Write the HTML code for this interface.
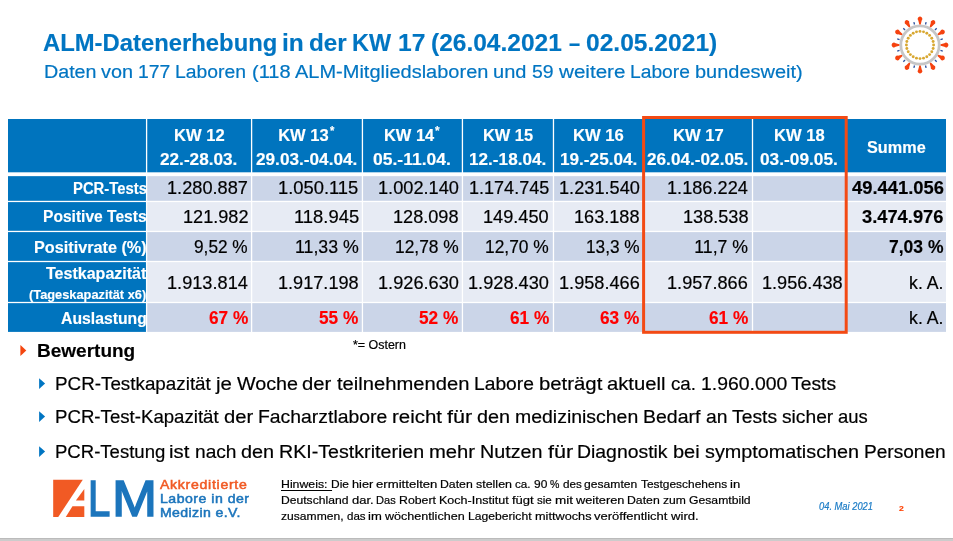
<!DOCTYPE html>
<html lang="de"><head><meta charset="utf-8"><title>ALM-Datenerhebung KW 17</title>
<style>
html,body{margin:0;padding:0;background:#fff}
body{width:953px;height:541px;position:relative;overflow:hidden;font-family:"Liberation Sans",sans-serif;color:#000}
.r{position:absolute;display:block}
.t{position:absolute;white-space:nowrap;line-height:1;transform-origin:0 0}
.ln{position:absolute;left:0;top:0;white-space:nowrap;line-height:1}
u{text-decoration:none;border-bottom:1.3px solid #000;display:inline-block;line-height:1;padding-right:.36em;padding-bottom:0;height:.91em}
</style></head>
<body>
<svg class="r" style="left:0;top:0" width="953" height="541" viewBox="0 0 953 541" aria-hidden="true">
<rect x="8" y="119" width="938" height="53.30" fill="#0074BE"/>
<rect x="8" y="176.15" width="138.60" height="24.65" fill="#0074BE"/>
<rect x="146.6" y="176.15" width="799.40" height="24.65" fill="#CBD5E8"/>
<rect x="8" y="202.1" width="138.60" height="28.70" fill="#0074BE"/>
<rect x="146.6" y="202.1" width="799.40" height="28.70" fill="#E7EBF4"/>
<rect x="8" y="232.1" width="138.60" height="28.75" fill="#0074BE"/>
<rect x="146.6" y="232.1" width="799.40" height="28.75" fill="#CBD5E8"/>
<rect x="8" y="262.15" width="138.60" height="39.70" fill="#0074BE"/>
<rect x="146.6" y="262.15" width="799.40" height="39.70" fill="#E7EBF4"/>
<rect x="8" y="303.15" width="138.60" height="28.75" fill="#0074BE"/>
<rect x="146.6" y="303.15" width="799.40" height="28.75" fill="#CBD5E8"/>
<rect x="145.95" y="118" width="1.3" height="215" fill="#fff"/>
<rect x="250.95" y="118" width="1.3" height="215" fill="#fff"/>
<rect x="361.78" y="118" width="1.3" height="215" fill="#fff"/>
<rect x="461.78" y="118" width="1.3" height="215" fill="#fff"/>
<rect x="552.82" y="118" width="1.3" height="215" fill="#fff"/>
<rect x="642.95" y="118" width="1.3" height="215" fill="#fff"/>
<rect x="751.85" y="118" width="1.3" height="215" fill="#fff"/>
<rect x="845.45" y="118" width="1.3" height="215" fill="#fff"/>
<polygon points="53.20,479.80 82.79,479.80 58.24,516.90 53.20,516.90" fill="#F15A24"/>
<polygon points="84.30,488.89 84.30,500.62 75.86,500.62" fill="#F15A24"/>
<polygon points="72.46,506.30 84.30,506.30 84.30,516.90 65.79,516.90" fill="#F15A24"/>
<polygon points="20.4,345 26.3,350.5 20.4,356" fill="#F4460F"/>
<polygon points="39.1,378.20 45.1,383.60 39.1,389.00" fill="#0075C2"/>
<polygon points="39.1,411.20 45.1,416.60 39.1,422.00" fill="#0075C2"/>
<polygon points="39.1,446.20 45.1,451.60 39.1,457.00" fill="#0075C2"/>
<rect x="643.6" y="117.5" width="202.6" height="214.8" fill="none" stroke="#F34A14" stroke-width="3"/>
<rect x="0" y="538" width="953" height="1" fill="#BBBBBB"/><rect x="0" y="539" width="953" height="2" fill="#CCCCCC"/>
<g transform="translate(920 45)">
<circle r="19.2" fill="none" stroke="#C6C6C6" stroke-width="2.8"/>
<circle cx="13.60" cy="0.00" r="1.45" fill="#D8A832"/>
<circle cx="13.14" cy="3.52" r="1.45" fill="#D8A832"/>
<circle cx="11.78" cy="6.80" r="1.45" fill="#D8A832"/>
<circle cx="9.62" cy="9.62" r="1.45" fill="#D8A832"/>
<circle cx="6.80" cy="11.78" r="1.45" fill="#D8A832"/>
<circle cx="3.52" cy="13.14" r="1.45" fill="#D8A832"/>
<circle cx="0.00" cy="13.60" r="1.45" fill="#D8A832"/>
<circle cx="-3.52" cy="13.14" r="1.45" fill="#D8A832"/>
<circle cx="-6.80" cy="11.78" r="1.45" fill="#D8A832"/>
<circle cx="-9.62" cy="9.62" r="1.45" fill="#D8A832"/>
<circle cx="-11.78" cy="6.80" r="1.45" fill="#D8A832"/>
<circle cx="-13.14" cy="3.52" r="1.45" fill="#D8A832"/>
<circle cx="-13.60" cy="0.00" r="1.45" fill="#D8A832"/>
<circle cx="-13.14" cy="-3.52" r="1.45" fill="#D8A832"/>
<circle cx="-11.78" cy="-6.80" r="1.45" fill="#D8A832"/>
<circle cx="-9.62" cy="-9.62" r="1.45" fill="#D8A832"/>
<circle cx="-6.80" cy="-11.78" r="1.45" fill="#D8A832"/>
<circle cx="-3.52" cy="-13.14" r="1.45" fill="#D8A832"/>
<circle cx="-0.00" cy="-13.60" r="1.45" fill="#D8A832"/>
<circle cx="3.52" cy="-13.14" r="1.45" fill="#D8A832"/>
<circle cx="6.80" cy="-11.78" r="1.45" fill="#D8A832"/>
<circle cx="9.62" cy="-9.62" r="1.45" fill="#D8A832"/>
<circle cx="11.78" cy="-6.80" r="1.45" fill="#D8A832"/>
<circle cx="13.14" cy="-3.52" r="1.45" fill="#D8A832"/>
<path transform="rotate(0)" d="M20.6 -0.7 L24.4 -1.7 A2.35 2.35 0 1 1 24.4 1.7 L20.6 0.7 Z" fill="#F5420F"/>
<rect transform="rotate(15)" x="21.2" y="-0.65" width="2.4" height="1.3" fill="#2A4F9E"/>
<path transform="rotate(30)" d="M20.6 -0.7 L24.4 -1.7 A2.35 2.35 0 1 1 24.4 1.7 L20.6 0.7 Z" fill="#F5420F"/>
<rect transform="rotate(45)" x="21.2" y="-0.65" width="2.4" height="1.3" fill="#2A4F9E"/>
<path transform="rotate(60)" d="M20.6 -0.7 L24.4 -1.7 A2.35 2.35 0 1 1 24.4 1.7 L20.6 0.7 Z" fill="#F5420F"/>
<rect transform="rotate(75)" x="21.2" y="-0.65" width="2.4" height="1.3" fill="#2A4F9E"/>
<path transform="rotate(90)" d="M20.6 -0.7 L24.4 -1.7 A2.35 2.35 0 1 1 24.4 1.7 L20.6 0.7 Z" fill="#F5420F"/>
<rect transform="rotate(105)" x="21.2" y="-0.65" width="2.4" height="1.3" fill="#2A4F9E"/>
<path transform="rotate(120)" d="M20.6 -0.7 L24.4 -1.7 A2.35 2.35 0 1 1 24.4 1.7 L20.6 0.7 Z" fill="#F5420F"/>
<rect transform="rotate(135)" x="21.2" y="-0.65" width="2.4" height="1.3" fill="#2A4F9E"/>
<path transform="rotate(150)" d="M20.6 -0.7 L24.4 -1.7 A2.35 2.35 0 1 1 24.4 1.7 L20.6 0.7 Z" fill="#F5420F"/>
<rect transform="rotate(165)" x="21.2" y="-0.65" width="2.4" height="1.3" fill="#2A4F9E"/>
<path transform="rotate(180)" d="M20.6 -0.7 L24.4 -1.7 A2.35 2.35 0 1 1 24.4 1.7 L20.6 0.7 Z" fill="#F5420F"/>
<rect transform="rotate(195)" x="21.2" y="-0.65" width="2.4" height="1.3" fill="#2A4F9E"/>
<path transform="rotate(210)" d="M20.6 -0.7 L24.4 -1.7 A2.35 2.35 0 1 1 24.4 1.7 L20.6 0.7 Z" fill="#F5420F"/>
<rect transform="rotate(225)" x="21.2" y="-0.65" width="2.4" height="1.3" fill="#2A4F9E"/>
<path transform="rotate(240)" d="M20.6 -0.7 L24.4 -1.7 A2.35 2.35 0 1 1 24.4 1.7 L20.6 0.7 Z" fill="#F5420F"/>
<rect transform="rotate(255)" x="21.2" y="-0.65" width="2.4" height="1.3" fill="#2A4F9E"/>
<path transform="rotate(270)" d="M20.6 -0.7 L24.4 -1.7 A2.35 2.35 0 1 1 24.4 1.7 L20.6 0.7 Z" fill="#F5420F"/>
<rect transform="rotate(285)" x="21.2" y="-0.65" width="2.4" height="1.3" fill="#2A4F9E"/>
<path transform="rotate(300)" d="M20.6 -0.7 L24.4 -1.7 A2.35 2.35 0 1 1 24.4 1.7 L20.6 0.7 Z" fill="#F5420F"/>
<rect transform="rotate(315)" x="21.2" y="-0.65" width="2.4" height="1.3" fill="#2A4F9E"/>
<path transform="rotate(330)" d="M20.6 -0.7 L24.4 -1.7 A2.35 2.35 0 1 1 24.4 1.7 L20.6 0.7 Z" fill="#F5420F"/>
<rect transform="rotate(345)" x="21.2" y="-0.65" width="2.4" height="1.3" fill="#2A4F9E"/>
</g>
</svg>
<div class="ln" style="font-size:24.2px;color:#0075C2;font-weight:700;">
<span class="t" style="left:43.31px;top:31.00px;transform:scaleX(0.9851);-webkit-text-stroke:0.15px #0075C2;">ALM-Datenerhebung</span> 
<span class="t" style="left:281.55px;top:31.00px;transform:scaleX(1.0128);-webkit-text-stroke:0.15px #0075C2;">in</span> 
<span class="t" style="left:308.78px;top:31.00px;transform:scaleX(1.0026);-webkit-text-stroke:0.15px #0075C2;">der</span> 
<span class="t" style="left:352.27px;top:31.00px;transform:scaleX(0.9685);-webkit-text-stroke:0.15px #0075C2;">KW</span> 
<span class="t" style="left:397.56px;top:31.00px;transform:scaleX(1.0182);-webkit-text-stroke:0.15px #0075C2;">17</span> 
<span class="t" style="left:430.56px;top:31.00px;transform:scaleX(1.0133);-webkit-text-stroke:0.15px #0075C2;">(26.04.2021</span> 
<span class="t" style="left:568.51px;top:31.00px;transform:scaleX(0.8276);-webkit-text-stroke:0.15px #0075C2;">–</span> 
<span class="t" style="left:586.26px;top:31.00px;transform:scaleX(1.0165);-webkit-text-stroke:0.15px #0075C2;">02.05.2021)</span> 
</div>
<div class="ln" style="font-size:19.2px;color:#0075C2;">
<span class="t" style="left:43.66px;top:62.00px;transform:scaleX(1.0252);-webkit-text-stroke:0.2px #0075C2;">Daten</span> 
<span class="t" style="left:101.12px;top:62.00px;transform:scaleX(1.0354);-webkit-text-stroke:0.2px #0075C2;">von</span> 
<span class="t" style="left:138.37px;top:62.00px;transform:scaleX(1.0105);-webkit-text-stroke:0.2px #0075C2;">177</span> 
<span class="t" style="left:175.19px;top:62.00px;transform:scaleX(1.0091);-webkit-text-stroke:0.2px #0075C2;">Laboren</span> 
<span class="t" style="left:251.50px;top:62.00px;transform:scaleX(1.0434);-webkit-text-stroke:0.2px #0075C2;">(118</span> 
<span class="t" style="left:294.93px;top:62.00px;transform:scaleX(1.0421);-webkit-text-stroke:0.2px #0075C2;">ALM-Mitgliedslaboren</span> 
<span class="t" style="left:493.29px;top:62.00px;transform:scaleX(1.0441);-webkit-text-stroke:0.2px #0075C2;">und</span> 
<span class="t" style="left:531.94px;top:62.00px;transform:scaleX(1.0134);-webkit-text-stroke:0.2px #0075C2;">59</span> 
<span class="t" style="left:558.54px;top:62.00px;transform:scaleX(1.0742);-webkit-text-stroke:0.2px #0075C2;">weitere</span> 
<span class="t" style="left:629.63px;top:62.00px;transform:scaleX(1.0028);-webkit-text-stroke:0.2px #0075C2;">Labore</span> 
<span class="t" style="left:694.60px;top:62.00px;transform:scaleX(1.0407);-webkit-text-stroke:0.2px #0075C2;">bundesweit)</span> 
</div>
<span class="t" style="left:173.66px;top:128.00px;transform:scaleX(1.0023);-webkit-text-stroke:0.15px #fff;font-size:16.52px;color:#fff;font-weight:700;">KW 12</span>
<span class="t" style="left:160.46px;top:152.00px;transform:scaleX(1.0406);-webkit-text-stroke:0.15px #fff;font-size:16.52px;color:#fff;font-weight:700;">22.-28.03.</span>
<span class="t" style="left:278.15px;top:128.00px;-webkit-text-stroke:0.15px #fff;font-size:16.52px;color:#fff;font-weight:700;">KW 13</span>
<span class="t" style="left:256.42px;top:152.00px;transform:scaleX(1.0408);-webkit-text-stroke:0.15px #fff;font-size:16.52px;color:#fff;font-weight:700;">29.03.-04.04.</span>
<span class="t" style="left:383.66px;top:128.00px;transform:scaleX(0.9940);-webkit-text-stroke:0.15px #fff;font-size:16.52px;color:#fff;font-weight:700;">KW 14</span>
<span class="t" style="left:373.37px;top:152.00px;transform:scaleX(1.0595);-webkit-text-stroke:0.15px #fff;font-size:16.52px;color:#fff;font-weight:700;">05.-11.04.</span>
<span class="t" style="left:482.52px;top:128.00px;transform:scaleX(0.9921);-webkit-text-stroke:0.15px #fff;font-size:16.52px;color:#fff;font-weight:700;">KW 15</span>
<span class="t" style="left:469.39px;top:152.00px;transform:scaleX(1.0395);-webkit-text-stroke:0.15px #fff;font-size:16.52px;color:#fff;font-weight:700;">12.-18.04.</span>
<span class="t" style="left:573.09px;top:128.00px;transform:scaleX(1.0064);-webkit-text-stroke:0.15px #fff;font-size:16.52px;color:#fff;font-weight:700;">KW 16</span>
<span class="t" style="left:559.97px;top:152.00px;transform:scaleX(1.0395);-webkit-text-stroke:0.15px #fff;font-size:16.52px;color:#fff;font-weight:700;">19.-25.04.</span>
<span class="t" style="left:672.61px;top:128.00px;transform:scaleX(1.0064);-webkit-text-stroke:0.15px #fff;font-size:16.52px;color:#fff;font-weight:700;">KW 17</span>
<span class="t" style="left:647.45px;top:152.00px;transform:scaleX(1.0408);-webkit-text-stroke:0.15px #fff;font-size:16.52px;color:#fff;font-weight:700;">26.04.-02.05.</span>
<span class="t" style="left:773.86px;top:128.00px;transform:scaleX(1.0023);-webkit-text-stroke:0.15px #fff;font-size:16.52px;color:#fff;font-weight:700;">KW 18</span>
<span class="t" style="left:760.25px;top:152.00px;transform:scaleX(1.0462);-webkit-text-stroke:0.15px #fff;font-size:16.52px;color:#fff;font-weight:700;">03.-09.05.</span>
<span class="t" style="left:867.10px;top:140.00px;transform:scaleX(0.9835);-webkit-text-stroke:0.15px #fff;font-size:16.52px;color:#fff;font-weight:700;">Summe</span>
<span class="t" style="left:329.80px;top:125.00px;transform:scaleX(0.8980);-webkit-text-stroke:0.15px #fff;font-size:12.5px;color:#fff;font-weight:700;">*</span>
<span class="t" style="left:435.00px;top:125.00px;transform:scaleX(0.9388);-webkit-text-stroke:0.15px #fff;font-size:12.5px;color:#fff;font-weight:700;">*</span>
<span class="t" style="left:72.51px;top:181.00px;transform:scaleX(0.8981);-webkit-text-stroke:0.15px #fff;font-size:16.52px;color:#fff;font-weight:700;">PCR-Tests</span>
<span class="t" style="left:42.86px;top:209.00px;transform:scaleX(0.9429);-webkit-text-stroke:0.15px #fff;font-size:16.52px;color:#fff;font-weight:700;">Positive Tests</span>
<span class="t" style="left:34.02px;top:240.00px;transform:scaleX(0.9819);-webkit-text-stroke:0.15px #fff;font-size:16.52px;color:#fff;font-weight:700;">Positivrate (%)</span>
<span class="t" style="left:45.70px;top:266.00px;transform:scaleX(0.9707);-webkit-text-stroke:0.15px #fff;font-size:16.52px;color:#fff;font-weight:700;">Testkapazität</span>
<span class="t" style="left:61.12px;top:311.00px;transform:scaleX(0.9542);-webkit-text-stroke:0.15px #fff;font-size:16.52px;color:#fff;font-weight:700;">Auslastung</span>
<span class="t" style="left:29.21px;top:288.00px;transform:scaleX(0.9876);-webkit-text-stroke:0.15px #fff;font-size:12.98px;color:#fff;font-weight:700;">(Tageskapazität x6)</span>
<span class="t" style="left:167.45px;top:180.00px;transform:scaleX(1.0277);-webkit-text-stroke:0.2px #000;font-size:17.7px;">1.280.887</span>
<span class="t" style="left:278.43px;top:180.00px;transform:scaleX(1.0376);-webkit-text-stroke:0.2px #000;font-size:17.7px;">1.050.115</span>
<span class="t" style="left:377.75px;top:180.00px;transform:scaleX(1.0276);-webkit-text-stroke:0.2px #000;font-size:17.7px;">1.002.140</span>
<span class="t" style="left:468.96px;top:180.00px;transform:scaleX(1.0198);-webkit-text-stroke:0.2px #000;font-size:17.7px;">1.174.745</span>
<span class="t" style="left:558.75px;top:180.00px;transform:scaleX(1.0276);-webkit-text-stroke:0.2px #000;font-size:17.7px;">1.231.540</span>
<span class="t" style="left:667.05px;top:180.00px;transform:scaleX(1.0275);-webkit-text-stroke:0.2px #000;font-size:17.7px;">1.186.224</span>
<span class="t" style="left:851.55px;top:180.00px;transform:scaleX(1.0387);-webkit-text-stroke:0.15px #000;font-size:17.7px;font-weight:700;">49.441.056</span>
<span class="t" style="left:182.84px;top:209.00px;transform:scaleX(1.0242);-webkit-text-stroke:0.2px #000;font-size:17.7px;">121.982</span>
<span class="t" style="left:293.62px;top:209.00px;transform:scaleX(1.0397);-webkit-text-stroke:0.2px #000;font-size:17.7px;">118.945</span>
<span class="t" style="left:393.24px;top:209.00px;transform:scaleX(1.0241);-webkit-text-stroke:0.2px #000;font-size:17.7px;">128.098</span>
<span class="t" style="left:483.43px;top:209.00px;transform:scaleX(1.0273);-webkit-text-stroke:0.2px #000;font-size:17.7px;">149.450</span>
<span class="t" style="left:574.24px;top:209.00px;transform:scaleX(1.0241);-webkit-text-stroke:0.2px #000;font-size:17.7px;">163.188</span>
<span class="t" style="left:682.74px;top:209.00px;transform:scaleX(1.0241);-webkit-text-stroke:0.2px #000;font-size:17.7px;">138.538</span>
<span class="t" style="left:862.08px;top:209.00px;transform:scaleX(1.0348);-webkit-text-stroke:0.15px #000;font-size:17.7px;font-weight:700;">3.474.976</span>
<span class="t" style="left:194.30px;top:239.00px;transform:scaleX(0.9750);-webkit-text-stroke:0.2px #000;font-size:17.7px;">9,52 %</span>
<span class="t" style="left:294.64px;top:239.00px;transform:scaleX(1.0042);-webkit-text-stroke:0.2px #000;font-size:17.7px;">11,33 %</span>
<span class="t" style="left:394.66px;top:239.00px;transform:scaleX(0.9833);-webkit-text-stroke:0.2px #000;font-size:17.7px;">12,78 %</span>
<span class="t" style="left:485.16px;top:239.00px;transform:scaleX(0.9833);-webkit-text-stroke:0.2px #000;font-size:17.7px;">12,70 %</span>
<span class="t" style="left:585.81px;top:239.00px;transform:scaleX(0.9747);-webkit-text-stroke:0.2px #000;font-size:17.7px;">13,3 %</span>
<span class="t" style="left:694.28px;top:239.00px;-webkit-text-stroke:0.2px #000;font-size:17.7px;">11,7 %</span>
<span class="t" style="left:888.92px;top:239.00px;transform:scaleX(0.9893);-webkit-text-stroke:0.15px #000;font-size:17.7px;font-weight:700;">7,03 %</span>
<span class="t" style="left:167.05px;top:275.00px;transform:scaleX(1.0275);-webkit-text-stroke:0.2px #000;font-size:17.7px;">1.913.814</span>
<span class="t" style="left:278.05px;top:275.00px;transform:scaleX(1.0250);-webkit-text-stroke:0.2px #000;font-size:17.7px;">1.917.198</span>
<span class="t" style="left:377.75px;top:275.00px;transform:scaleX(1.0276);-webkit-text-stroke:0.2px #000;font-size:17.7px;">1.926.630</span>
<span class="t" style="left:468.25px;top:275.00px;transform:scaleX(1.0276);-webkit-text-stroke:0.2px #000;font-size:17.7px;">1.928.430</span>
<span class="t" style="left:558.95px;top:275.00px;transform:scaleX(1.0263);-webkit-text-stroke:0.2px #000;font-size:17.7px;">1.958.466</span>
<span class="t" style="left:667.45px;top:275.00px;transform:scaleX(1.0263);-webkit-text-stroke:0.2px #000;font-size:17.7px;">1.957.866</span>
<span class="t" style="left:762.05px;top:275.00px;transform:scaleX(1.0250);-webkit-text-stroke:0.2px #000;font-size:17.7px;">1.956.438</span>
<span class="t" style="left:909.06px;top:275.00px;-webkit-text-stroke:0.2px #000;font-size:17.7px;">k. A.</span>
<span class="t" style="left:208.62px;top:310.00px;transform:scaleX(0.9743);-webkit-text-stroke:0.15px #FF0000;font-size:17.7px;color:#FF0000;font-weight:700;">67 %</span>
<span class="t" style="left:319.12px;top:310.00px;transform:scaleX(0.9744);-webkit-text-stroke:0.15px #FF0000;font-size:17.7px;color:#FF0000;font-weight:700;">55 %</span>
<span class="t" style="left:419.12px;top:310.00px;transform:scaleX(0.9744);-webkit-text-stroke:0.15px #FF0000;font-size:17.7px;color:#FF0000;font-weight:700;">52 %</span>
<span class="t" style="left:509.62px;top:310.00px;transform:scaleX(0.9743);-webkit-text-stroke:0.15px #FF0000;font-size:17.7px;color:#FF0000;font-weight:700;">61 %</span>
<span class="t" style="left:600.12px;top:310.00px;transform:scaleX(0.9743);-webkit-text-stroke:0.15px #FF0000;font-size:17.7px;color:#FF0000;font-weight:700;">63 %</span>
<span class="t" style="left:708.62px;top:310.00px;transform:scaleX(0.9743);-webkit-text-stroke:0.15px #FF0000;font-size:17.7px;color:#FF0000;font-weight:700;">61 %</span>
<span class="t" style="left:909.06px;top:310.00px;-webkit-text-stroke:0.2px #000;font-size:17.7px;">k. A.</span>
<span class="t" style="left:352.70px;top:339.00px;transform:scaleX(1.0191);-webkit-text-stroke:0.2px #000;font-size:12.21px;">*= Ostern</span>
<span class="t" style="left:36.69px;top:342.00px;transform:scaleX(1.0081);-webkit-text-stroke:0.15px #000;font-size:18.88px;font-weight:700;">Bewertung</span>
<div class="ln" style="font-size:18.88px;">
<span class="t" style="left:54.95px;top:375.00px;transform:scaleX(0.9976);-webkit-text-stroke:0.2px #000;">PCR-Testkapazität</span> 
<span class="t" style="left:215.99px;top:375.00px;transform:scaleX(1.0848);-webkit-text-stroke:0.2px #000;">je</span> 
<span class="t" style="left:236.70px;top:375.00px;transform:scaleX(1.0464);-webkit-text-stroke:0.2px #000;">Woche</span> 
<span class="t" style="left:302.48px;top:375.00px;transform:scaleX(1.0738);-webkit-text-stroke:0.2px #000;">der</span> 
<span class="t" style="left:336.72px;top:375.00px;transform:scaleX(1.0701);-webkit-text-stroke:0.2px #000;">teilnehmenden</span> 
<span class="t" style="left:473.88px;top:375.00px;transform:scaleX(1.0200);-webkit-text-stroke:0.2px #000;">Labore</span> 
<span class="t" style="left:538.78px;top:375.00px;transform:scaleX(1.0777);-webkit-text-stroke:0.2px #000;">beträgt</span> 
<span class="t" style="left:607.19px;top:375.00px;transform:scaleX(1.0729);-webkit-text-stroke:0.2px #000;">aktuell</span> 
<span class="t" style="left:670.69px;top:375.00px;transform:scaleX(0.9918);-webkit-text-stroke:0.2px #000;">ca.</span> 
<span class="t" style="left:700.60px;top:375.00px;transform:scaleX(1.0281);-webkit-text-stroke:0.2px #000;">1.960.000</span> 
<span class="t" style="left:791.37px;top:375.00px;transform:scaleX(1.0233);-webkit-text-stroke:0.2px #000;">Tests</span> 
</div>
<div class="ln" style="font-size:18.88px;">
<span class="t" style="left:54.97px;top:408.00px;transform:scaleX(0.9883);-webkit-text-stroke:0.2px #000;">PCR-Test-Kapazität</span> 
<span class="t" style="left:223.87px;top:408.00px;transform:scaleX(1.0735);-webkit-text-stroke:0.2px #000;">der</span> 
<span class="t" style="left:257.87px;top:408.00px;transform:scaleX(1.0275);-webkit-text-stroke:0.2px #000;">Facharztlabore</span> 
<span class="t" style="left:391.98px;top:408.00px;transform:scaleX(1.0839);-webkit-text-stroke:0.2px #000;">reicht</span> 
<span class="t" style="left:447.11px;top:408.00px;transform:scaleX(1.1430);-webkit-text-stroke:0.2px #000;">für</span> 
<span class="t" style="left:477.09px;top:408.00px;transform:scaleX(1.0518);-webkit-text-stroke:0.2px #000;">den</span> 
<span class="t" style="left:515.25px;top:408.00px;transform:scaleX(1.0314);-webkit-text-stroke:0.2px #000;">medizinischen</span> 
<span class="t" style="left:643.38px;top:408.00px;transform:scaleX(1.0336);-webkit-text-stroke:0.2px #000;">Bedarf</span> 
<span class="t" style="left:705.85px;top:408.00px;transform:scaleX(1.0224);-webkit-text-stroke:0.2px #000;">an</span> 
<span class="t" style="left:731.92px;top:408.00px;transform:scaleX(1.0230);-webkit-text-stroke:0.2px #000;">Tests</span> 
<span class="t" style="left:782.00px;top:408.00px;transform:scaleX(1.0186);-webkit-text-stroke:0.2px #000;">sicher</span> 
<span class="t" style="left:838.18px;top:408.00px;transform:scaleX(0.9771);-webkit-text-stroke:0.2px #000;">aus</span> 
</div>
<div class="ln" style="font-size:18.88px;">
<span class="t" style="left:54.97px;top:443.00px;transform:scaleX(0.9834);-webkit-text-stroke:0.2px #000;">PCR-Testung</span> 
<span class="t" style="left:169.18px;top:443.00px;transform:scaleX(1.0753);-webkit-text-stroke:0.2px #000;">ist</span> 
<span class="t" style="left:194.80px;top:443.00px;transform:scaleX(1.0144);-webkit-text-stroke:0.2px #000;">nach</span> 
<span class="t" style="left:241.11px;top:443.00px;transform:scaleX(1.0527);-webkit-text-stroke:0.2px #000;">den</span> 
<span class="t" style="left:278.98px;top:443.00px;transform:scaleX(1.0413);-webkit-text-stroke:0.2px #000;">RKI-Testkriterien</span> 
<span class="t" style="left:429.28px;top:443.00px;transform:scaleX(1.0720);-webkit-text-stroke:0.2px #000;">mehr</span> 
<span class="t" style="left:480.18px;top:443.00px;transform:scaleX(1.0458);-webkit-text-stroke:0.2px #000;">Nutzen</span> 
<span class="t" style="left:547.50px;top:443.00px;transform:scaleX(1.1440);-webkit-text-stroke:0.2px #000;">für</span> 
<span class="t" style="left:577.40px;top:443.00px;transform:scaleX(1.0284);-webkit-text-stroke:0.2px #000;">Diagnostik</span> 
<span class="t" style="left:673.37px;top:443.00px;transform:scaleX(1.0593);-webkit-text-stroke:0.2px #000;">bei</span> 
<span class="t" style="left:704.89px;top:443.00px;transform:scaleX(1.0500);-webkit-text-stroke:0.2px #000;">symptomatischen</span> 
<span class="t" style="left:863.90px;top:443.00px;transform:scaleX(1.0123);-webkit-text-stroke:0.2px #000;">Personen</span> 
</div>
<div class="ln" style="font-size:11.8px;">
<span class="t" style="left:281.26px;top:479.00px;transform:scaleX(1.0421);-webkit-text-stroke:0.2px #000;"><u>Hinweis:</u></span> 
<span class="t" style="left:330.68px;top:479.00px;transform:scaleX(1.0135);-webkit-text-stroke:0.2px #000;">Die</span> 
<span class="t" style="left:351.64px;top:479.00px;transform:scaleX(1.0775);-webkit-text-stroke:0.2px #000;">hier</span> 
<span class="t" style="left:375.81px;top:479.00px;transform:scaleX(1.1156);-webkit-text-stroke:0.2px #000;">ermittelten</span> 
<span class="t" style="left:440.19px;top:479.00px;transform:scaleX(1.0391);-webkit-text-stroke:0.2px #000;">Daten</span> 
<span class="t" style="left:476.02px;top:479.00px;transform:scaleX(1.0552);-webkit-text-stroke:0.2px #000;">stellen</span> 
<span class="t" style="left:514.93px;top:479.00px;transform:scaleX(0.9903);-webkit-text-stroke:0.2px #000;">ca.</span> 
<span class="t" style="left:533.72px;top:479.00px;transform:scaleX(1.0160);-webkit-text-stroke:0.2px #000;">90</span> 
<span class="t" style="left:550.00px;top:479.00px;transform:scaleX(0.8971);-webkit-text-stroke:0.2px #000;">%</span> 
<span class="t" style="left:562.51px;top:479.00px;transform:scaleX(0.9898);-webkit-text-stroke:0.2px #000;">des</span> 
<span class="t" style="left:584.36px;top:479.00px;transform:scaleX(1.0277);-webkit-text-stroke:0.2px #000;">gesamten</span> 
<span class="t" style="left:640.55px;top:479.00px;transform:scaleX(1.0104);-webkit-text-stroke:0.2px #000;">Testgeschehens</span> 
<span class="t" style="left:729.66px;top:479.00px;transform:scaleX(1.1087);-webkit-text-stroke:0.2px #000;">in</span> 
</div>
<div class="ln" style="font-size:11.8px;">
<span class="t" style="left:281.28px;top:495.00px;transform:scaleX(1.0273);-webkit-text-stroke:0.2px #000;">Deutschland</span> 
<span class="t" style="left:351.86px;top:495.00px;transform:scaleX(1.0997);-webkit-text-stroke:0.2px #000;">dar.</span> 
<span class="t" style="left:376.36px;top:495.00px;transform:scaleX(0.9388);-webkit-text-stroke:0.2px #000;">Das</span> 
<span class="t" style="left:399.07px;top:495.00px;transform:scaleX(1.0436);-webkit-text-stroke:0.2px #000;">Robert</span> 
<span class="t" style="left:438.97px;top:495.00px;transform:scaleX(1.0622);-webkit-text-stroke:0.2px #000;">Koch-Institut</span> 
<span class="t" style="left:511.72px;top:495.00px;transform:scaleX(1.1044);-webkit-text-stroke:0.2px #000;">fügt</span> 
<span class="t" style="left:536.65px;top:495.00px;transform:scaleX(0.9823);-webkit-text-stroke:0.2px #000;">sie</span> 
<span class="t" style="left:554.55px;top:495.00px;transform:scaleX(1.1439);-webkit-text-stroke:0.2px #000;">mit</span> 
<span class="t" style="left:575.84px;top:495.00px;transform:scaleX(1.0852);-webkit-text-stroke:0.2px #000;">weiteren</span> 
<span class="t" style="left:627.20px;top:495.00px;transform:scaleX(1.0385);-webkit-text-stroke:0.2px #000;">Daten</span> 
<span class="t" style="left:662.81px;top:495.00px;transform:scaleX(1.0283);-webkit-text-stroke:0.2px #000;">zum</span> 
<span class="t" style="left:688.83px;top:495.00px;transform:scaleX(1.0331);-webkit-text-stroke:0.2px #000;">Gesamtbild</span> 
</div>
<div class="ln" style="font-size:11.8px;">
<span class="t" style="left:281.19px;top:511.00px;transform:scaleX(1.0258);-webkit-text-stroke:0.2px #000;">zusammen,</span> 
<span class="t" style="left:346.60px;top:511.00px;transform:scaleX(0.9784);-webkit-text-stroke:0.2px #000;">das</span> 
<span class="t" style="left:368.19px;top:511.00px;transform:scaleX(1.1059);-webkit-text-stroke:0.2px #000;">im</span> 
<span class="t" style="left:385.23px;top:511.00px;transform:scaleX(1.0656);-webkit-text-stroke:0.2px #000;">wöchentlichen</span> 
<span class="t" style="left:467.80px;top:511.00px;transform:scaleX(1.0303);-webkit-text-stroke:0.2px #000;">Lagebericht</span> 
<span class="t" style="left:534.59px;top:511.00px;transform:scaleX(1.0786);-webkit-text-stroke:0.2px #000;">mittwochs</span> 
<span class="t" style="left:594.27px;top:511.00px;transform:scaleX(1.1011);-webkit-text-stroke:0.2px #000;">veröffentlicht</span> 
<span class="t" style="left:671.01px;top:511.00px;transform:scaleX(1.1110);-webkit-text-stroke:0.2px #000;">wird.</span> 
</div>
<span class="t" style="left:819.13px;top:502.00px;transform:scaleX(0.9337);-webkit-text-stroke:0.2px #1C7CC6;font-size:10px;color:#1C7CC6;font-style:italic;">04. Mai 2021</span>
<span class="t" style="left:898.78px;top:505.00px;transform:scaleX(1.1026);-webkit-text-stroke:0.15px #FF4000;font-size:7.8px;color:#FF4000;font-weight:700;">2</span>
<span class="t" style="left:160.40px;top:479.00px;letter-spacing:0.628px;transform:scaleX(1.12);-webkit-text-stroke:0.5px #F15A24;font-size:12.6px;color:#F15A24;">Akkreditierte</span>
<span class="t" style="left:160.08px;top:493.00px;letter-spacing:0.437px;transform:scaleX(1.12);-webkit-text-stroke:0.5px #1C75BC;font-size:12.6px;color:#1C75BC;">Labore in der</span>
<span class="t" style="left:160.08px;top:507.00px;letter-spacing:0.324px;transform:scaleX(1.12);-webkit-text-stroke:0.5px #1C75BC;font-size:12.6px;color:#1C75BC;">Medizin e.V.</span>
<span class="t" style="left:87.76px;top:474.00px;transform:scaleX(0.7922);-webkit-text-stroke:1.6px #1C75BC;font-size:50.7px;color:#1C75BC;">L</span>
<span class="t" style="left:111.77px;top:474.00px;transform:scaleX(1.0672);-webkit-text-stroke:1.6px #1C75BC;font-size:50.7px;color:#1C75BC;">M</span>
</body></html>
